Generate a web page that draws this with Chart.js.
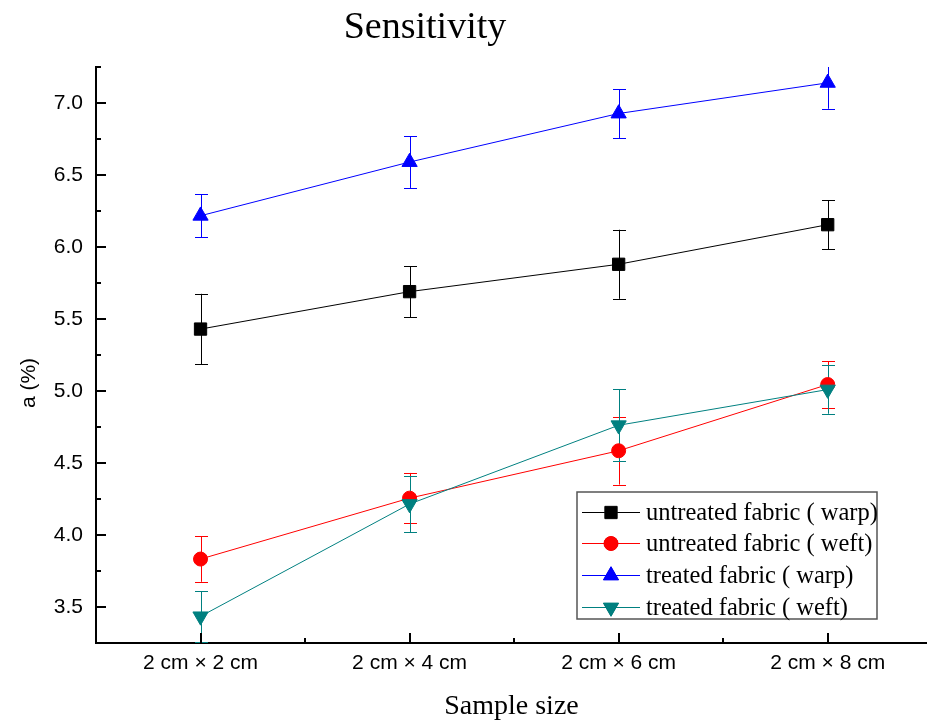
<!DOCTYPE html>
<html>
<head>
<meta charset="utf-8">
<script src="https://cdn.jsdelivr.net/npm/chart.js@4/dist/chart.umd.min.js"></script>
<style>
  html, body { margin: 0; padding: 0; background: #fff; }
  #wrap { width: 927px; height: 721px; position: relative; }
</style>
</head>
<body>
<div id="wrap"><canvas id="sensChart" width="927" height="721"></canvas></div>
<script>
// بيانات الرسم
const sampleSizes = ["2 cm × 2 cm", "2 cm × 4 cm", "2 cm × 6 cm", "2 cm × 8 cm"];
const yTicks = [3.5, 4.0, 4.5, 5.0, 5.5, 6.0, 6.5, 7.0];

const untreatedWarp = [5.43, 5.69, 5.88, 6.155];
const untreatedWarpErr = [0.245, 0.177, 0.24, 0.17];
const untreatedWeft = [3.833, 4.256, 4.585, 5.045];
const untreatedWeftErr = [0.158, 0.175, 0.235, 0.16];
const treatedWarp = [6.217, 6.59, 6.927, 7.14];
const treatedWarpErr = [0.15, 0.18, 0.17, 0.18];
const treatedWeft = [3.435, 4.215, 4.762, 5.01];
const treatedWeftErr = [0.175, 0.194, 0.25, 0.168];

const seriesNames = [
  "untreated fabric ( warp)",
  "untreated fabric ( weft)",
  "treated fabric ( warp)",
  "treated fabric ( weft)",
];

const serifFont = "'Liberation Serif', 'Times New Roman', serif";
const sansFont = "'Liberation Sans', Arial, sans-serif";

function toPoints(values) {
  return values.map((v, i) => ({ x: i, y: v }));
}

function makeDataset(label, values, errors, color, style, radius, rotation, order) {
  return {
    label: label,
    data: toPoints(values),
    errors: errors,
    borderColor: color,
    backgroundColor: color,
    borderWidth: 1,
    pointStyle: style,
    pointRadius: radius,
    pointHoverRadius: radius,
    pointRotation: rotation,
    pointBackgroundColor: color,
    pointBorderColor: color,
    pointBorderWidth: 1,
    tension: 0,
    order: order,
  };
}

// رسم أشرطة الخطأ
const errorBarsPlugin = {
  id: "errorBars",
  beforeDatasetsDraw(chart) {
    const { ctx, chartArea, scales } = chart;
    ctx.save();
    ctx.beginPath();
    ctx.rect(chartArea.left, chartArea.top, chartArea.right - chartArea.left, chartArea.bottom - chartArea.top);
    ctx.clip();
    chart.data.datasets.forEach((ds) => {
      ctx.strokeStyle = ds.borderColor;
      ctx.lineWidth = 1;
      ds.data.forEach((p, i) => {
        const err = ds.errors[i];
        const px = Math.round(scales.x.getPixelForValue(p.x)) + 0.5;
        const top = scales.y.getPixelForValue(p.y + err);
        const bot = scales.y.getPixelForValue(p.y - err);
        ctx.beginPath();
        ctx.moveTo(px, top);
        ctx.lineTo(px, bot);
        ctx.moveTo(px - 6.5, Math.round(top) + 0.5);
        ctx.lineTo(px + 6.5, Math.round(top) + 0.5);
        ctx.moveTo(px - 6.5, Math.round(bot) + 0.5);
        ctx.lineTo(px + 6.5, Math.round(bot) + 0.5);
        ctx.stroke();
      });
    });
    ctx.restore();
  },
};

// علامات المحاور إلى الداخل + العناوين + وسيلة الإيضاح
const decorPlugin = {
  id: "decor",
  afterDraw(chart) {
    const { ctx, chartArea, scales } = chart;
    const x = scales.x;
    const y = scales.y;
    ctx.save();
    ctx.strokeStyle = "#000";
    ctx.lineWidth = 2;

    // علامات المحور الرأسي
    yTicks.forEach((v) => {
      const py = Math.round(y.getPixelForValue(v));
      ctx.beginPath();
      ctx.moveTo(chartArea.left, py);
      ctx.lineTo(chartArea.left + 10, py);
      ctx.stroke();
    });
    const yMinor = [yTicks[0] - 0.25].concat(yTicks.map((v) => v + 0.25));
    yMinor.forEach((v) => {
      if (v <= y.min || v > y.max) return;
      const py = Math.round(y.getPixelForValue(v));
      ctx.beginPath();
      ctx.moveTo(chartArea.left, py);
      ctx.lineTo(chartArea.left + 5, py);
      ctx.stroke();
    });

    // علامات المحور الأفقي
    sampleSizes.forEach((s, i) => {
      const px = Math.round(x.getPixelForValue(i));
      ctx.beginPath();
      ctx.moveTo(px, chartArea.bottom);
      ctx.lineTo(px, chartArea.bottom - 10);
      ctx.stroke();
      const mx = Math.round(x.getPixelForValue(i + 0.5));
      if (mx < chartArea.right) {
        ctx.beginPath();
        ctx.moveTo(mx, chartArea.bottom);
        ctx.lineTo(mx, chartArea.bottom - 5);
        ctx.stroke();
      }
    });

    // العنوان
    ctx.fillStyle = "#000";
    ctx.font = "38px " + serifFont;
    ctx.textAlign = "center";
    ctx.textBaseline = "alphabetic";
    ctx.fillText("Sensitivity", 425, 38);

    // عنوان المحور الرأسي
    ctx.save();
    ctx.translate(29, 383);
    ctx.rotate(-Math.PI / 2);
    ctx.font = "21px " + sansFont;
    ctx.textBaseline = "middle";
    ctx.fillText("a (%)", 0, 0);
    ctx.restore();

    // وسيلة الإيضاح
    const box = { left: 577, top: 492, right: 877, bottom: 619 };
    ctx.fillStyle = "#fff";
    ctx.fillRect(box.left, box.top, box.right - box.left, box.bottom - box.top);
    ctx.strokeStyle = "#555";
    ctx.lineWidth = 1.5;
    ctx.strokeRect(box.left, box.top, box.right - box.left, box.bottom - box.top);

    const rows = [511.7, 543.3, 575, 606.5];
    chart.data.datasets.forEach((ds, i) => {
      const ry = Math.round(rows[i]) + 0.5;
      ctx.strokeStyle = ds.borderColor;
      ctx.lineWidth = 1;
      ctx.beginPath();
      ctx.moveTo(582, ry);
      ctx.lineTo(640, ry);
      ctx.stroke();
      Chart.helpers.drawPoint(ctx, {
        pointStyle: ds.pointStyle,
        radius: ds.pointRadius,
        rotation: ds.pointRotation,
        borderWidth: 1,
      }, 611, ry);
      ctx.fillStyle = ds.backgroundColor;
      ctx.fill();
      ctx.fillStyle = "#000";
      ctx.font = "24.5px " + serifFont;
      ctx.textAlign = "left";
      ctx.textBaseline = "middle";
      ctx.fillText(seriesNames[i], 646, ry + 1);
    });
    ctx.restore();
  },
};

const ctx = document.getElementById("sensChart").getContext("2d");

new Chart(ctx, {
  type: "line",
  data: {
    datasets: [
      makeDataset(seriesNames[0], untreatedWarp, untreatedWarpErr, "#000000", "rect", 8.7, 0, 3),
      makeDataset(seriesNames[1], untreatedWeft, untreatedWeftErr, "#FF0000", "circle", 7, 0, 2),
      makeDataset(seriesNames[2], treatedWarp, treatedWarpErr, "#0000FF", "triangle", 8.8, 0, 1),
      makeDataset(seriesNames[3], treatedWeft, treatedWeftErr, "#008080", "triangle", 8.8, 180, 0),
    ],
  },
  options: {
    responsive: false,
    animation: false,
    events: [],
    layout: { autoPadding: false, padding: { top: 67, right: 0, bottom: 0, left: 0 } },
    plugins: {
      legend: { display: false },
      tooltip: { enabled: false },
      title: { display: false },
    },
    scales: {
      x: {
        type: "linear",
        min: -0.5,
        max: 3.475,
        afterFit: (scale) => {
          scale.height = 78;
          scale.paddingLeft = 0;
          scale.paddingRight = 0;
        },
        afterBuildTicks: (scale) => {
          scale.ticks = sampleSizes.map((s, i) => ({ value: i }));
        },
        ticks: {
          padding: 8,
          color: "#000",
          font: { family: sansFont, size: 21 },
          maxRotation: 0,
          callback: (value) => sampleSizes[value],
        },
        grid: { display: false, drawTicks: false },
        border: { display: true, color: "#000", width: 2 },
        title: {
          display: true,
          text: "Sample size",
          color: "#000",
          font: { family: serifFont, size: 28, lineHeight: 1 },
          padding: { top: 0, bottom: 0 },
        },
      },
      y: {
        min: 3.25,
        max: 7.25,
        afterFit: (scale) => {
          scale.width = 96;
          scale.paddingTop = 0;
          scale.paddingBottom = 0;
        },
        afterBuildTicks: (scale) => {
          scale.ticks = yTicks.map((v) => ({ value: v }));
        },
        ticks: {
          padding: 13,
          color: "#000",
          font: { family: sansFont, size: 21 },
          callback: (value) => Number(value).toFixed(1),
        },
        grid: { display: false, drawTicks: false },
        border: { display: true, color: "#000", width: 2 },
      },
    },
  },
  plugins: [errorBarsPlugin, decorPlugin],
});
</script>
</body>
</html>
